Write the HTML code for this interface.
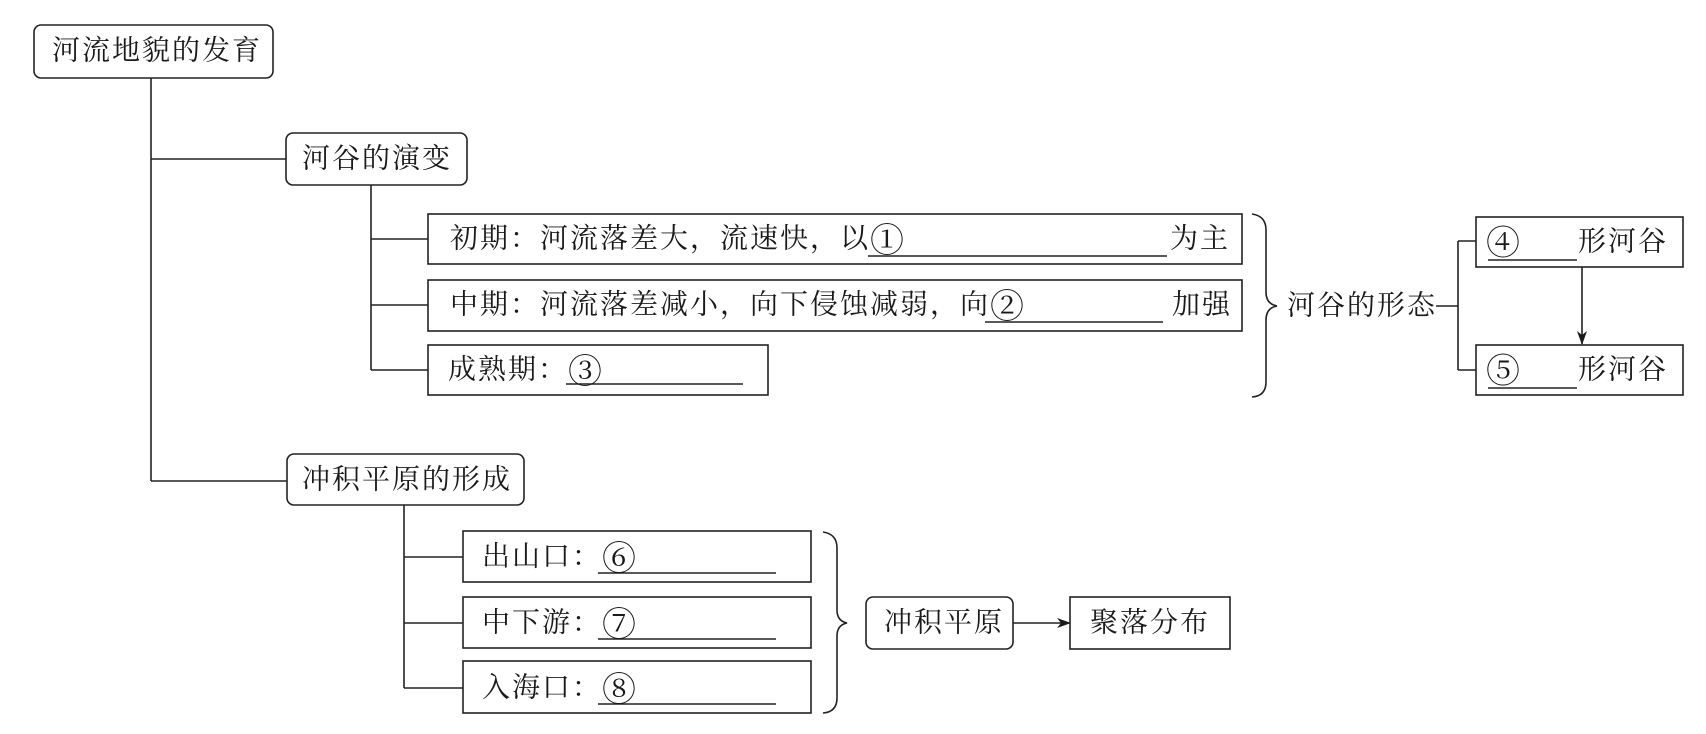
<!DOCTYPE html>
<html><head><meta charset="utf-8">
<style>
html,body{margin:0;padding:0;background:#fff;}
svg{display:block;}
text{font-family:"Liberation Serif","Noto Serif CJK SC","Noto Sans CJK SC",serif;font-size:28px;fill:#1a1a1a;letter-spacing:2px;dominant-baseline:central;}
.c{font-size:34px;}
</style></head><body>
<svg width="1706" height="734" viewBox="0 0 1706 734" xmlns="http://www.w3.org/2000/svg">
<defs><marker id="ah" markerWidth="14" markerHeight="10" refX="13" refY="5" orient="auto" markerUnits="userSpaceOnUse"><path d="M0,0 L14,5 L0,10 L4,5 Z" fill="#1a1a1a"/></marker></defs>
<g stroke="#222" stroke-width="1.6" fill="none">
<rect x="34" y="25" width="239" height="53" rx="7"/>
<line x1="151" y1="78" x2="151" y2="481"/>
<line x1="151" y1="159" x2="286" y2="159"/>
<line x1="151" y1="481" x2="287" y2="481"/>
<rect x="286" y="133" width="181" height="52" rx="7"/>
<line x1="371" y1="185" x2="371" y2="370"/>
<line x1="371" y1="239" x2="428" y2="239"/>
<line x1="371" y1="305" x2="428" y2="305"/>
<line x1="371" y1="370" x2="428" y2="370"/>
<rect x="428" y="214" width="814" height="50"/>
<rect x="428" y="280" width="814" height="51"/>
<rect x="428" y="345" width="340" height="50"/>
<path d="M1252,214 Q1266,216 1266,230 L1266,292 Q1266,304 1277,306 Q1266,308 1266,320 L1266,382 Q1266,396 1252,397"/>
<line x1="1436" y1="306" x2="1458" y2="306"/>
<line x1="1458" y1="241" x2="1458" y2="370"/>
<line x1="1458" y1="241" x2="1476" y2="241"/>
<line x1="1458" y1="370" x2="1476" y2="370"/>
<rect x="1476" y="217" width="207" height="50"/>
<rect x="1476" y="345" width="207" height="50"/>
<line x1="1582" y1="267" x2="1582" y2="344" marker-end="url(#ah)"/>
<rect x="287" y="454" width="237" height="51" rx="7"/>
<line x1="404" y1="505" x2="404" y2="688"/>
<line x1="404" y1="557" x2="463" y2="557"/>
<line x1="404" y1="623" x2="463" y2="623"/>
<line x1="404" y1="688" x2="463" y2="688"/>
<rect x="463" y="531" width="348" height="51"/>
<rect x="463" y="597" width="348" height="51"/>
<rect x="463" y="661" width="348" height="52"/>
<path d="M823,532 Q837,534 837,548 L837,610 Q837,621 847,623 Q837,625 837,636 L837,698 Q837,712 823,713"/>
<rect x="866" y="597" width="147" height="52" rx="7"/>
<line x1="1013" y1="623" x2="1070" y2="623" marker-end="url(#ah)"/>
<rect x="1070" y="597" width="160" height="52"/>
</g>
<g stroke="#222" stroke-width="1.4">
<line x1="868" y1="256" x2="1167" y2="256"/>
<line x1="985" y1="322" x2="1163" y2="322"/>
<line x1="566" y1="384" x2="743" y2="384"/>
<line x1="598" y1="573" x2="776" y2="573"/>
<line x1="598" y1="639" x2="776" y2="639"/>
<line x1="598" y1="704" x2="776" y2="704"/>
<line x1="1488" y1="260" x2="1577" y2="260"/>
<line x1="1488" y1="388" x2="1577" y2="388"/>
</g>
<text x="52" y="51">河流地貌的发育</text>
<text x="302" y="159">河谷的演变</text>
<text x="450" y="239">初期：河流落差大，流速快，以<tspan class="c" dy="2">①</tspan></text>
<text x="1170" y="239">为主</text>
<text x="450" y="305">中期：河流落差减小，向下侵蚀减弱，向<tspan class="c" dy="2">②</tspan></text>
<text x="1172" y="305">加强</text>
<text x="448" y="370">成熟期：<tspan class="c" dy="2">③</tspan></text>
<text x="1287" y="306">河谷的形态</text>
<text x="1486" y="244" class="c">④</text>
<text x="1578" y="242">形河谷</text>
<text x="1486" y="372" class="c">⑤</text>
<text x="1578" y="370">形河谷</text>
<text x="302" y="480">冲积平原的形成</text>
<text x="482" y="557">出山口：<tspan class="c" dy="2">⑥</tspan></text>
<text x="482" y="623">中下游：<tspan class="c" dy="2">⑦</tspan></text>
<text x="482" y="688">入海口：<tspan class="c" dy="2">⑧</tspan></text>
<text x="884" y="623">冲积平原</text>
<text x="1090" y="623">聚落分布</text>
</svg>
</body></html>
